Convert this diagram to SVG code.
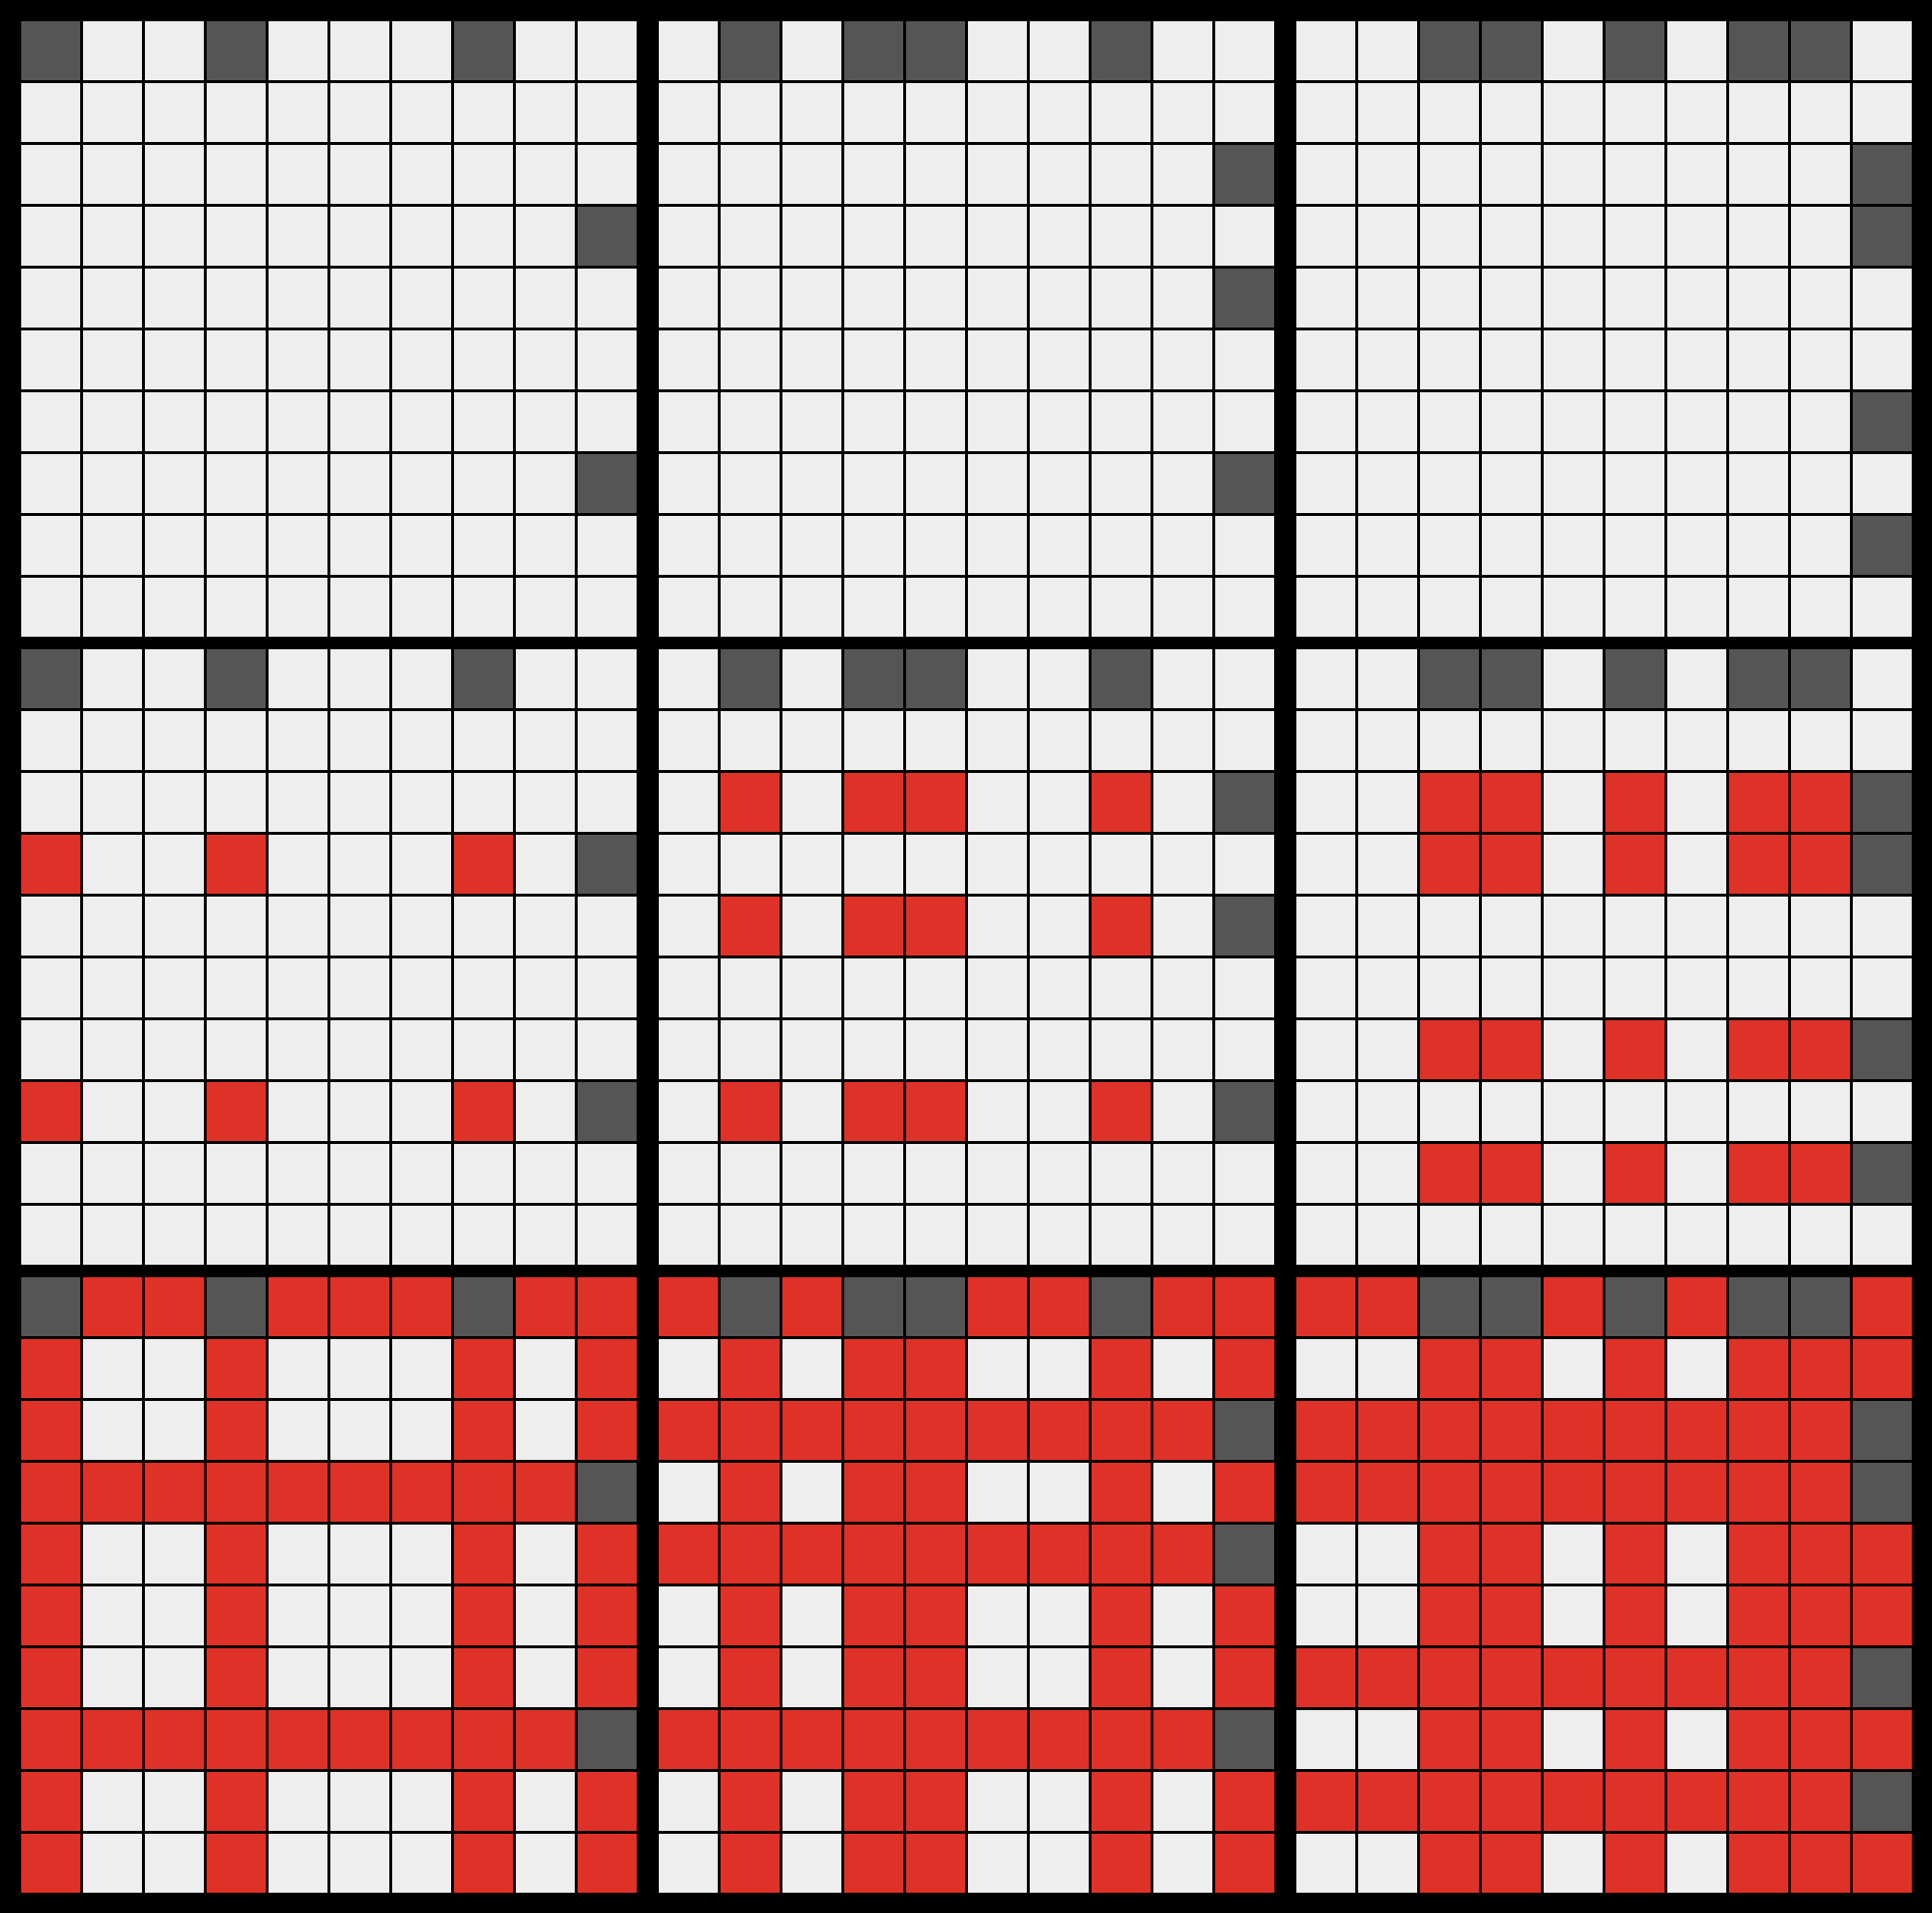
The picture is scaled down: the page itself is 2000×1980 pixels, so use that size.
<svg xmlns="http://www.w3.org/2000/svg" xmlns:xlink="http://www.w3.org/1999/xlink" width="2000" height="1980" viewBox="0 0 2000 1980">
<style>
.l{fill:#eeeeee}.g{fill:#555555}.r{fill:#de3128}.k{fill:#000000}
</style>
<defs>
<g id="grid" class="k">
<rect x="61" y="0" width="3" height="637"/><rect x="125" y="0" width="3" height="637"/><rect x="189" y="0" width="3" height="637"/><rect x="253" y="0" width="3" height="637"/><rect x="317" y="0" width="3" height="637"/><rect x="381" y="0" width="3" height="637"/><rect x="445" y="0" width="3" height="637"/><rect x="509" y="0" width="3" height="637"/><rect x="573" y="0" width="3" height="637"/>
<rect y="61" x="0" height="3" width="637"/><rect y="125" x="0" height="3" width="637"/><rect y="189" x="0" height="3" width="637"/><rect y="253" x="0" height="3" width="637"/><rect y="317" x="0" height="3" width="637"/><rect y="381" x="0" height="3" width="637"/><rect y="445" x="0" height="3" width="637"/><rect y="509" x="0" height="3" width="637"/><rect y="573" x="0" height="3" width="637"/>
</g>
<g id="gray0" class="g">
<rect x="0" y="0" width="61" height="61"/><rect x="192" y="0" width="61" height="61"/><rect x="448" y="0" width="61" height="61"/><rect x="576" y="192" width="61" height="61"/><rect x="576" y="448" width="61" height="61"/>
</g>
<g id="gray1" class="g">
<rect x="64" y="0" width="61" height="61"/><rect x="192" y="0" width="125" height="61"/><rect x="448" y="0" width="61" height="61"/><rect x="576" y="128" width="61" height="61"/><rect x="576" y="256" width="61" height="61"/><rect x="576" y="448" width="61" height="61"/>
</g>
<g id="gray2" class="g">
<rect x="128" y="0" width="125" height="61"/><rect x="320" y="0" width="61" height="61"/><rect x="448" y="0" width="125" height="61"/><rect x="576" y="128" width="61" height="125"/><rect x="576" y="384" width="61" height="61"/><rect x="576" y="512" width="61" height="61"/>
</g>
</defs>
<rect class="k" x="0" y="0" width="2000" height="1980"/>

<g id="panel-top-left" transform="translate(22,22)">
<rect class="l" width="637" height="637"/>
<use xlink:href="#gray0"/>
<use xlink:href="#grid"/>
</g>
<g id="panel-top-middle" transform="translate(682,22)">
<rect class="l" width="637" height="637"/>
<use xlink:href="#gray1"/>
<use xlink:href="#grid"/>
</g>
<g id="panel-top-right" transform="translate(1342,22)">
<rect class="l" width="637" height="637"/>
<use xlink:href="#gray2"/>
<use xlink:href="#grid"/>
</g>

<g id="panel-mid-left" transform="translate(22,672)">
<rect class="l" width="637" height="637"/>
<use xlink:href="#gray0"/>
<g class="r">
<rect x="0" y="192" width="61" height="61"/><rect x="192" y="192" width="61" height="61"/><rect x="448" y="192" width="61" height="61"/>
<rect x="0" y="448" width="61" height="61"/><rect x="192" y="448" width="61" height="61"/><rect x="448" y="448" width="61" height="61"/>
</g>
<use xlink:href="#grid"/>
</g>
<g id="panel-mid-middle" transform="translate(682,672)">
<rect class="l" width="637" height="637"/>
<use xlink:href="#gray1"/>
<g class="r">
<rect x="64" y="128" width="61" height="61"/><rect x="192" y="128" width="125" height="61"/><rect x="448" y="128" width="61" height="61"/>
<rect x="64" y="256" width="61" height="61"/><rect x="192" y="256" width="125" height="61"/><rect x="448" y="256" width="61" height="61"/>
<rect x="64" y="448" width="61" height="61"/><rect x="192" y="448" width="125" height="61"/><rect x="448" y="448" width="61" height="61"/>
</g>
<use xlink:href="#grid"/>
</g>
<g id="panel-mid-right" transform="translate(1342,672)">
<rect class="l" width="637" height="637"/>
<use xlink:href="#gray2"/>
<g class="r">
<rect x="128" y="128" width="125" height="125"/><rect x="320" y="128" width="61" height="125"/><rect x="448" y="128" width="125" height="125"/>
<rect x="128" y="384" width="125" height="61"/><rect x="320" y="384" width="61" height="61"/><rect x="448" y="384" width="125" height="61"/>
<rect x="128" y="512" width="125" height="61"/><rect x="320" y="512" width="61" height="61"/><rect x="448" y="512" width="125" height="61"/>
</g>
<use xlink:href="#grid"/>
</g>

<g id="panel-bottom-left" transform="translate(22,1322)">
<rect class="r" width="637" height="637"/>
<g class="l">
<rect x="64" y="64" width="125" height="125"/><rect x="256" y="64" width="189" height="125"/><rect x="512" y="64" width="61" height="125"/>
<rect x="64" y="256" width="125" height="189"/><rect x="256" y="256" width="189" height="189"/><rect x="512" y="256" width="61" height="189"/>
<rect x="64" y="512" width="125" height="125"/><rect x="256" y="512" width="189" height="125"/><rect x="512" y="512" width="61" height="125"/>
</g>
<use xlink:href="#gray0"/>
<use xlink:href="#grid"/>
</g>
<g id="panel-bottom-middle" transform="translate(682,1322)">
<rect class="r" width="637" height="637"/>
<g class="l">
<rect x="0" y="64" width="61" height="61"/><rect x="128" y="64" width="61" height="61"/><rect x="320" y="64" width="125" height="61"/><rect x="512" y="64" width="61" height="61"/>
<rect x="0" y="192" width="61" height="61"/><rect x="128" y="192" width="61" height="61"/><rect x="320" y="192" width="125" height="61"/><rect x="512" y="192" width="61" height="61"/>
<rect x="0" y="320" width="61" height="125"/><rect x="128" y="320" width="61" height="125"/><rect x="320" y="320" width="125" height="125"/><rect x="512" y="320" width="61" height="125"/>
<rect x="0" y="512" width="61" height="125"/><rect x="128" y="512" width="61" height="125"/><rect x="320" y="512" width="125" height="125"/><rect x="512" y="512" width="61" height="125"/>
</g>
<use xlink:href="#gray1"/>
<use xlink:href="#grid"/>
</g>
<g id="panel-bottom-right" transform="translate(1342,1322)">
<rect class="r" width="637" height="637"/>
<g class="l">
<rect x="0" y="64" width="125" height="61"/><rect x="256" y="64" width="61" height="61"/><rect x="384" y="64" width="61" height="61"/>
<rect x="0" y="256" width="125" height="125"/><rect x="256" y="256" width="61" height="125"/><rect x="384" y="256" width="61" height="125"/>
<rect x="0" y="448" width="125" height="61"/><rect x="256" y="448" width="61" height="61"/><rect x="384" y="448" width="61" height="61"/>
<rect x="0" y="576" width="125" height="61"/><rect x="256" y="576" width="61" height="61"/><rect x="384" y="576" width="61" height="61"/>
</g>
<use xlink:href="#gray2"/>
<use xlink:href="#grid"/>
</g>
</svg>
